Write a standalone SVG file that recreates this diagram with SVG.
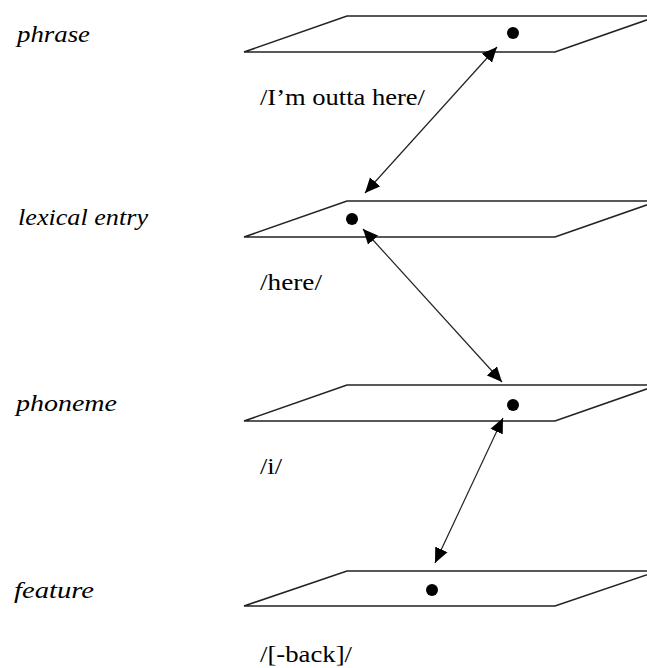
<svg xmlns="http://www.w3.org/2000/svg" width="647" height="668" viewBox="0 0 647 668">
<defs>
<marker id="ah" viewBox="0 0 10 10" refX="10" refY="5" markerWidth="15" markerHeight="15" markerUnits="userSpaceOnUse" orient="auto-start-reverse">
<path d="M0,0.5 L10,5 L0,9.5 Z" fill="#000"/>
</marker>
</defs>
<style>
.plane{fill:none;stroke:#222;stroke-width:1.6;stroke-linejoin:miter}
.dot{fill:#000}
.lvl{font-family:"Liberation Serif","Times New Roman",serif;font-style:italic;font-size:24px;fill:#000}
.ex{font-family:"Liberation Serif","Times New Roman",serif;font-size:24px;fill:#000}
.conn{stroke:#222;stroke-width:1.2;fill:none;marker-start:url(#ah);marker-end:url(#ah)}
</style>
<rect width="647" height="668" fill="#fff"/>
<g id="phrase">
<polygon class="plane" points="244,52 347,16 658,16 555,52"/>
<circle class="dot" cx="513" cy="33" r="6"/>
<text class="lvl" x="17" y="42" textLength="73" lengthAdjust="spacingAndGlyphs">phrase</text>
<text class="ex" x="260" y="105" textLength="165" lengthAdjust="spacingAndGlyphs">/I’m outta here/</text>
</g>
<g id="lexical-entry">
<polygon class="plane" points="244,237 347,201 658,201 555,237"/>
<circle class="dot" cx="352" cy="219" r="6"/>
<text class="lvl" x="18" y="225" textLength="130" lengthAdjust="spacingAndGlyphs">lexical entry</text>
<text class="ex" x="260" y="290" textLength="62" lengthAdjust="spacingAndGlyphs">/here/</text>
</g>
<g id="phoneme">
<polygon class="plane" points="244,421 347,385 658,385 555,421"/>
<circle class="dot" cx="513" cy="405" r="6"/>
<text class="lvl" x="16" y="411" textLength="101" lengthAdjust="spacingAndGlyphs">phoneme</text>
<text class="ex" x="260" y="474" textLength="22" lengthAdjust="spacingAndGlyphs">/i/</text>
</g>
<g id="feature">
<polygon class="plane" points="244,606 347,571 658,571 555,606"/>
<circle class="dot" cx="432" cy="590" r="6"/>
<text class="lvl" x="14" y="598" textLength="80" lengthAdjust="spacingAndGlyphs">feature</text>
<text class="ex" x="260" y="662" textLength="92" lengthAdjust="spacingAndGlyphs">/[-back]/</text>
</g>
<g id="connectors">
<line class="conn" x1="497" y1="47" x2="365" y2="193"/>
<line class="conn" x1="363" y1="229" x2="502" y2="382"/>
<line class="conn" x1="503" y1="418" x2="435" y2="563"/>
</g>
</svg>
